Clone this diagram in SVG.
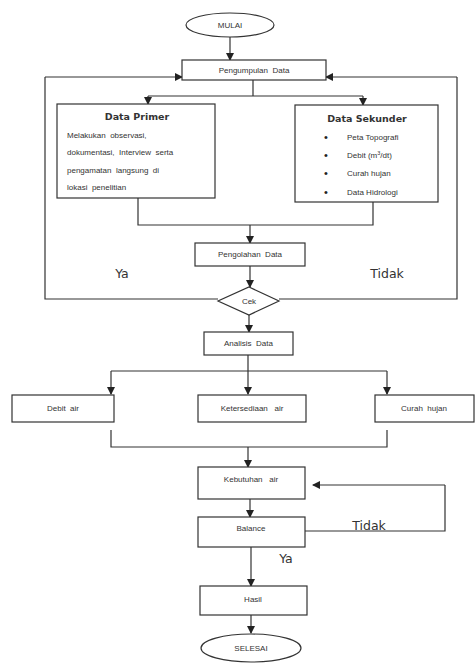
<svg xmlns="http://www.w3.org/2000/svg" width="475" height="663" viewBox="0 0 475 663">
<defs>
<marker id="ah" markerWidth="8" markerHeight="8" refX="7" refY="4" orient="auto" markerUnits="userSpaceOnUse">
<path d="M0,0 L8,4 L0,8 Z" fill="#222"/>
</marker>
</defs>
<style>
.box{fill:#fff;stroke:#333;stroke-width:1.2}
.ln{fill:none;stroke:#333;stroke-width:1.2}
.ar{fill:none;stroke:#333;stroke-width:1.2;marker-end:url(#ah)}
.t{font-family:"Liberation Sans",Arial,sans-serif;font-size:8px;fill:#333;text-anchor:middle;dominant-baseline:central;white-space:pre}
.tl{font-family:"Liberation Sans",Arial,sans-serif;font-size:8px;fill:#333;white-space:pre}
.b{font-family:"Liberation Sans",Arial,sans-serif;font-size:11px;fill:#222}
.h{font-family:"DejaVu Sans",sans-serif;font-size:9.5px;font-weight:bold;fill:#333;text-anchor:middle;dominant-baseline:central}
.big{font-family:"DejaVu Sans",sans-serif;font-size:12.5px;fill:#333;text-anchor:middle;dominant-baseline:central}
</style>
<rect width="475" height="663" fill="#fff"/>
<g id="connectors">
<path class="ar" d="M230,37 L230,60"/>
<path class="ln" d="M253,80 L253,96 M148,96 L363,96"/>
<path class="ar" d="M148,96 L148,104"/>
<path class="ar" d="M363,96 L363,105"/>
<path class="ln" d="M138,198 L138,225 L373,225 L373,202"/>
<path class="ar" d="M250,225 L250,243"/>
<path class="ar" d="M250,266 L250,287"/>
<path class="ln" d="M218,299 L45,299 L45,77"/>
<path class="ar" d="M45,77 L182,77"/>
<path class="ln" d="M279,299 L457,299 L457,77"/>
<path class="ar" d="M457,77 L326,77"/>
<path class="ar" d="M249,315 L249,332"/>
<path class="ln" d="M248,355 L248,371 M111,371 L387,371"/>
<path class="ar" d="M111,371 L111,394"/>
<path class="ar" d="M248,371 L248,394"/>
<path class="ar" d="M387,371 L387,394"/>
<path class="ln" d="M111,430 L111,447 L387,447 L387,430"/>
<path class="ar" d="M248,447 L248,467"/>
<path class="ar" d="M250,499 L250,517"/>
<path class="ln" d="M305,531 L445,531 L445,485"/>
<path class="ar" d="M445,485 L313,485"/>
<path class="ar" d="M251,547 L251,586"/>
<path class="ar" d="M251,615 L251,633"/>
</g>
<g id="mulai"><ellipse class="box" cx="230" cy="25" rx="44" ry="12"/><text class="t" x="230" y="25" font-size="9">MULAI</text></g>
<g id="pengumpulan"><rect class="box" x="182" y="60" width="144" height="20"/><text class="t" x="254" y="70">Pengumpulan  Data</text></g>
<g id="primer"><rect class="box" x="57" y="104" width="158" height="94"/>
<text class="h" x="137" y="116">Data Primer</text>
<text class="tl" x="67" y="138">Melakukan  observasi,</text>
<text class="tl" x="67" y="155">dokumentasi,  Interview  serta</text>
<text class="tl" x="67" y="173">pengamatan  langsung  di</text>
<text class="tl" x="67" y="190">lokasi  penelitian</text>
</g>
<g id="sekunder"><rect class="box" x="295" y="105" width="143" height="97"/>
<text class="h" x="367" y="118">Data Sekunder</text>
<g class="b"><text x="324" y="141">•</text><text x="324" y="159">•</text><text x="324" y="177">•</text><text x="324" y="196">•</text></g>
<g class="tl"><text x="347" y="140">Peta  Topografi</text>
<text x="347" y="158">Debit  (m<tspan font-size="5.5" dy="-3">3</tspan><tspan dy="3">/dt)</tspan></text>
<text x="347" y="176">Curah  hujan</text>
<text x="347" y="195">Data  Hidrologi</text></g>
</g>
<g id="pengolahan"><rect class="box" x="195" y="243" width="110" height="23"/><text class="t" x="250" y="254.5">Pengolahan  Data</text></g>
<g id="cek"><polygon class="box" points="249,287 279,301 249,315 218,301"/><text class="t" x="249" y="301">Cek</text></g>
<text class="big" x="122" y="273">Ya</text>
<text class="big" x="387" y="273">Tidak</text>
<g id="analisis"><rect class="box" x="204" y="332" width="89" height="23"/><text class="t" x="248.5" y="343.5">Analisis  Data</text></g>
<g id="debit"><rect class="box" x="12" y="395" width="102" height="27"/><text class="t" x="63" y="408.5">Debit  air</text></g>
<g id="ketersediaan"><rect class="box" x="198" y="395" width="108" height="27"/><text class="t" x="252" y="408.5">Ketersediaan   air</text></g>
<g id="curah"><rect class="box" x="375" y="395" width="99" height="27"/><text class="t" x="424" y="408.5">Curah  hujan</text></g>
<g id="kebutuhan"><rect class="box" x="198" y="467" width="107" height="32"/><text class="t" x="251" y="479">Kebutuhan   air</text></g>
<g id="balance"><rect class="box" x="198" y="517" width="107" height="30"/><text class="t" x="251" y="528">Balance</text></g>
<text class="big" x="369" y="525">Tidak</text>
<text class="big" x="286" y="558">Ya</text>
<g id="hasil"><rect class="box" x="200" y="586" width="107" height="29"/><text class="t" x="253" y="599">Hasil</text></g>
<g id="selesai"><ellipse class="box" cx="251" cy="648" rx="50" ry="14"/><text class="t" x="251" y="648" font-size="9">SELESAI</text></g>
</svg>
